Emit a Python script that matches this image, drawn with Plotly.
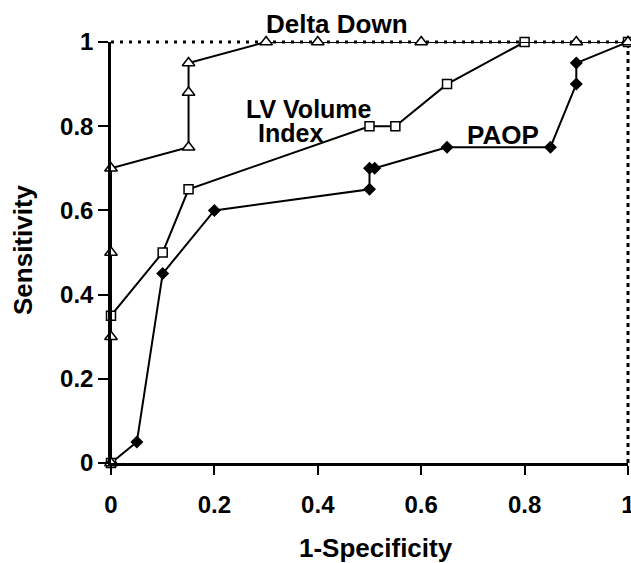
import plotly.graph_objects as go

# Data
delta_x = [0, 0, 0, 0, 0.15, 0.15, 0.15, 0.3, 0.4, 0.6, 0.9, 1]
delta_y = [0, 0.3, 0.5, 0.7, 0.75, 0.88, 0.95, 1, 1, 1, 1, 1]

lv_x = [0, 0, 0.1, 0.15, 0.5, 0.55, 0.65, 0.8, 1]
lv_y = [0, 0.35, 0.5, 0.65, 0.8, 0.8, 0.9, 1, 1]

paop_x = [0, 0.05, 0.1, 0.2, 0.5, 0.5, 0.51, 0.65, 0.85, 0.9, 0.9, 1]
paop_y = [0, 0.05, 0.45, 0.6, 0.65, 0.7, 0.7, 0.75, 0.75, 0.9, 0.95, 1]

tick_vals = [0, 0.2, 0.4, 0.6, 0.8, 1]
tick_text = ["0", "0.2", "0.4", "0.6", "0.8", "1"]

FONT = "Liberation Sans, Arial, sans-serif"

# plot area target: x 111..628, y 42..463 (screen px)
W, H = 631, 563
L, T, PW, PH = 111, 42, 517, 421


def px(xp):
    return (xp - L) / PW


def py(yp):
    return (T + PH - yp) / PH


fig = go.Figure()

fig.add_trace(go.Scatter(
    x=paop_x, y=paop_y, mode="lines+markers", cliponaxis=False,
    line=dict(color="black", width=2),
    marker=dict(symbol="diamond", size=10, color="black"),
    name="PAOP", showlegend=False))

fig.add_trace(go.Scatter(
    x=lv_x, y=lv_y, mode="lines+markers", cliponaxis=False,
    line=dict(color="black", width=2),
    marker=dict(symbol="square", size=9, color="white", line=dict(color="black", width=1.5)),
    name="LV Volume Index", showlegend=False))

fig.add_trace(go.Scatter(
    x=delta_x, y=delta_y, mode="lines+markers", cliponaxis=False,
    line=dict(color="black", width=2),
    marker=dict(symbol="triangle-up", size=11, color="white", line=dict(color="black", width=1.5)),
    name="Delta Down", showlegend=False))

# dotted frame lines at top and right edges of the plot area
fig.add_shape(type="line", xref="paper", yref="paper", x0=0, x1=1, y0=1, y1=1,
              line=dict(color="black", width=3, dash="3px,6px"), layer="below")
fig.add_shape(type="line", xref="paper", yref="paper", x0=1, x1=1, y0=0, y1=1,
              line=dict(color="black", width=3, dash="4px,4px"), layer="below")


def label(text, xp, yp, angle=0, size=25):
    fig.add_annotation(x=px(xp), y=py(yp), xref="paper", yref="paper",
                       xanchor="center", yanchor="middle", text=text, textangle=angle,
                       showarrow=False, font=dict(family=FONT, size=size, color="black"))


label("<b>Delta Down</b>", 337, 24, size=26)
label("<b>LV Volume</b>", 309, 109)
label("<b>Index</b>", 290, 133)
label("<b>PAOP</b>", 503, 135, size=26)
label("<b>Sensitivity</b>", 23, 250, -90, size=26)
label("<b>1-Specificity</b>", 376, 548, size=26)

fig.update_layout(
    width=W, height=H,
    margin=dict(l=L, r=W - L - PW, t=T, b=H - T - PH, autoexpand=False),
    plot_bgcolor="white", paper_bgcolor="white",
    font=dict(family=FONT, color="black"),
    xaxis=dict(range=[0, 1], tickvals=tick_vals, ticktext=["<b>%s</b>" % t for t in tick_text],
               showgrid=False, zeroline=False, showline=True, linecolor="black", linewidth=2.5,
               ticks="outside", ticklen=9, tickwidth=2, tickcolor="black",
               tickfont=dict(family=FONT, size=24, color="black"), ticklabelstandoff=9,
               ticklabeloverflow="allow"),
    yaxis=dict(range=[0, 1], tickvals=tick_vals, ticktext=["<b>%s</b>" % t for t in tick_text],
               showgrid=False, zeroline=False, showline=True, linecolor="black", linewidth=2.5,
               ticks="outside", ticklen=10, tickwidth=2, tickcolor="black",
               tickfont=dict(family=FONT, size=24, color="black"), ticklabelstandoff=0,
               ticklabeloverflow="allow"),
)

fig.write_html(
    "out.html",
    config={"displayModeBar": False},
    post_script="document.body.style.margin='0';document.body.style.overflow='hidden';"
                "document.documentElement.style.overflow='hidden';",
)
